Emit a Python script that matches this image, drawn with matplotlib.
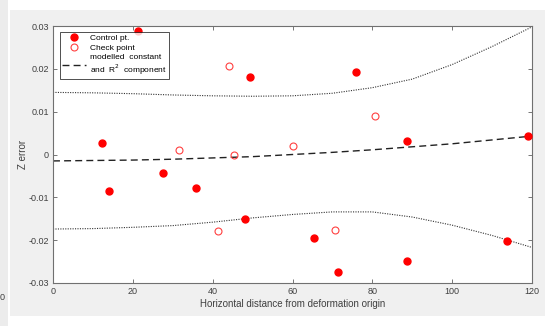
"""
Z error of control and check points vs horizontal distance from the
deformation origin, with the modelled constant + R^2 component and its
dotted confidence envelope.
"""
import matplotlib
matplotlib.use("Agg")
import matplotlib.pyplot as plt
from matplotlib.patches import Rectangle


# ---------------- point data ------------------------------------------------
CONTROL_X = [21.2, 12.4, 49.3, 76.0, 88.8, 119.1, 14.0, 27.5, 35.7,
             48.2, 65.4, 71.3, 88.6, 113.8]
CONTROL_Y = [0.0288, 0.0026, 0.0182, 0.0192, 0.0031, 0.0044, -0.0086,
             -0.0044, -0.0079, -0.0150, -0.0195, -0.0275, -0.0249, -0.0203]

CHECK_X = [31.6, 44.1, 60.0, 45.3, 80.7, 41.4, 70.7]
CHECK_Y = [0.00105, 0.0207, 0.0020, -0.0002, 0.0089, -0.0178, -0.0177]

# ---------------- model curve + envelope (sampled every 10 units) -----------
CURVE_X = [0, 10, 20, 30, 40, 50, 60, 70, 80, 90, 100, 110, 120]
MODEL_Y = [-0.0015, -0.0014, -0.0013, -0.0011, -0.0008, -0.0005, 0.0000,
           0.0005, 0.0011, 0.0018, 0.0025, 0.0034, 0.0043]
UPPER_Y = [0.0145, 0.0144, 0.0142, 0.0139, 0.0137, 0.0136, 0.0137,
           0.0143, 0.0156, 0.0176, 0.0210, 0.0252, 0.0298]
LOWER_Y = [-0.0174, -0.0173, -0.0170, -0.0166, -0.0158, -0.0148, -0.0140,
           -0.0134, -0.0134, -0.0146, -0.0165, -0.0189, -0.0217]

XTICKS = [0, 20, 40, 60, 80, 100, 120]
YTICKS = [-0.03, -0.02, -0.01, 0, 0.01, 0.02, 0.03]
YTICKLABELS = ["-0.03", "-0.02", "-0.01", "0", "0.01", "0.02", "0.03"]

TEXT = "#404040"
W, H = 545, 326

plt.rcParams["font.family"] = ["Liberation Sans", "DejaVu Sans"]

fig = plt.figure(figsize=(W / 100, H / 100), dpi=100, facecolor="white")

# grey window panel and the sliver of the neighbouring one on the left
fig.patches.append(Rectangle((10 / W, 1 - 316 / H), 535 / W, 306 / H,
                             transform=fig.transFigure, facecolor="#f0f0f0",
                             edgecolor="none", zorder=-10))
fig.patches.append(Rectangle((0, 0), 8 / W, 1, transform=fig.transFigure,
                             facecolor="#ececec", edgecolor="none",
                             zorder=-10))
fig.text(0 / W, 1 - 298 / H, "0", fontsize=6.5, color=TEXT, va="center")

ax = fig.add_axes([53 / W, 1 - 283 / H, 479 / W, 257 / H])
ax.set_facecolor("white")

ax.plot(CURVE_X, UPPER_Y, ls=(0, (1, 1.2)), color="#333333", lw=0.8)
ax.plot(CURVE_X, LOWER_Y, ls=(0, (1, 1.2)), color="#333333", lw=0.8)
ax.plot(CONTROL_X, CONTROL_Y, "o", color="red", ms=5, mec="red",
        label="Control pt.", zorder=3)
ax.plot(CHECK_X, CHECK_Y, "o", mfc="none", mec="#ff4040", ms=5, mew=0.8,
        label="Check point", zorder=3)
ax.plot(CURVE_X, MODEL_Y, ls=(0, (5, 3)), color="#222222", lw=1.0,
        label="modelled  constant\nand  R$^2$  component")

ax.set_xlim(0, 120)
ax.set_ylim(-0.03, 0.03)
ax.set_xticks(XTICKS)
ax.set_yticks(YTICKS)
ax.set_yticklabels(YTICKLABELS)
ax.tick_params(direction="in", length=3, width=0.6, colors="#606060",
               labelcolor=TEXT, labelsize=6.5, top=True, right=True, pad=3)
for sp in ax.spines.values():
    sp.set_color("#707070")
    sp.set_linewidth(0.8)

ax.set_xlabel("Horizontal distance from deformation origin", fontsize=7,
              color=TEXT, labelpad=2)
ax.set_ylabel("Z error", fontsize=7, color=TEXT, labelpad=0)

leg = ax.legend(loc="upper left", bbox_to_anchor=(0.015, 0.975), fontsize=6,
                frameon=True, fancybox=False, edgecolor="black",
                borderpad=0.25, labelspacing=0.2, handlelength=2.8,
                handletextpad=0.5, borderaxespad=0)
leg.get_frame().set_linewidth(0.6)

fig.savefig("out.png", dpi=100, facecolor=fig.get_facecolor())
